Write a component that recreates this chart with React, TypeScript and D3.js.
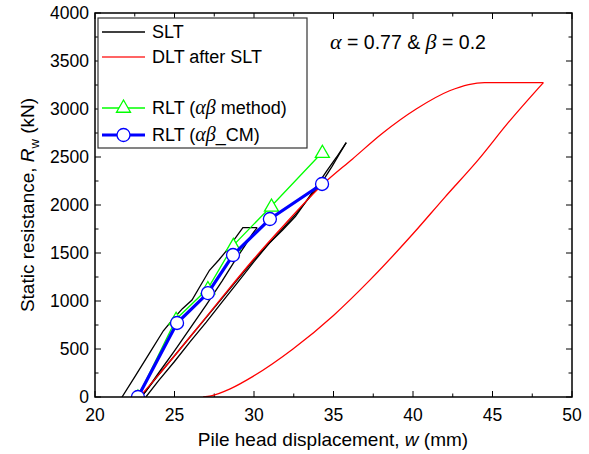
import React from 'react'
import * as d3 from 'd3'

// SLT - static load test, cycle 1 loading + hold, unloading, cycle 2 reload, unloading
const sltCycle1Load: [number, number][] = [
  [21.7, 0], [22.5, 210], [23.4, 450], [24.3, 690], [24.9, 810], [25.5, 920],
  [26.1, 1010], [26.7, 1180], [27.2, 1320], [27.8, 1430], [28.3, 1530],
  [28.8, 1650], [29.3, 1765], [30.2, 1765],
]
const sltCycle1Unload: [number, number][] = [
  [30.2, 1765], [29.9, 1700], [29.4, 1570], [28.8, 1420], [28.0, 1210],
  [27.0, 960], [26.0, 720], [25.0, 480], [24.0, 250], [23.2, 60], [22.9, 0],
]
const sltCycle2Load: [number, number][] = [
  [22.9, 0], [24.0, 230], [25.0, 430], [26.0, 630], [27.0, 830], [28.0, 1030],
  [29.0, 1230], [30.0, 1430], [31.0, 1610], [31.8, 1740], [32.6, 1880],
  [33.2, 2020], [33.9, 2190], [34.6, 2360], [35.2, 2500], [35.8, 2650],
]
const sltCycle2Unload: [number, number][] = [
  [35.8, 2650], [35.4, 2540], [34.9, 2400], [34.4, 2270], [33.6, 2100],
  [32.6, 1900], [32.0, 1790], [31.0, 1610], [30.0, 1410], [29.0, 1200],
  [28.0, 990], [27.0, 780], [26.0, 580], [25.0, 370], [24.0, 170], [23.2, 0],
]

// DLT after SLT (red), loading then unloading
const dltLoad: [number, number][] = [
  [22.8, 0], [24.0, 230], [26.0, 630], [28.0, 1040], [30.0, 1440], [32.0, 1810],
  [34.3, 2210], [36.2, 2480], [38.1, 2750], [40.2, 3000], [42.3, 3190],
  [43.5, 3255], [44.5, 3275], [48.2, 3275],
]
const dltUnload: [number, number][] = [
  [48.2, 3275], [46.0, 2860], [44.1, 2470], [42.0, 2080], [40.0, 1700],
  [37.3, 1220], [35.0, 850], [32.45, 500], [29.94, 215], [28.5, 85],
  [27.3, 12], [26.8, 0],
]

// RLT points
const rltAbMethod: [number, number][] = [
  [22.7, 0], [25.1, 810], [27.1, 1130], [28.7, 1580], [31.1, 1990], [34.3, 2550],
]
const rltAbCM: [number, number][] = [
  [22.7, 0], [25.16, 771], [27.1, 1083], [28.68, 1479], [31.0, 1854], [34.28, 2219],
]

const xTicks = [20, 25, 30, 35, 40, 45, 50]
const yTicks = [0, 500, 1000, 1500, 2000, 2500, 3000, 3500, 4000]

const W = 589
const H = 454
const m = { left: 95, right: 572, top: 13, bottom: 397 }
const font = 'Liberation Sans, Arial, sans-serif'
const mathFont = 'Liberation Serif, Times New Roman, serif'

const App = () => {
  const x = d3.scaleLinear().domain([20, 50]).range([m.left, m.right])
  const y = d3.scaleLinear().domain([0, 4000]).range([m.bottom, m.top])
  const line = d3
    .line<[number, number]>()
    .x((d) => x(d[0]))
    .y((d) => y(d[1]))
  // the DLT curves are smooth, so run a spline through the read points
  const smooth = d3
    .line<[number, number]>()
    .x((d) => x(d[0]))
    .y((d) => y(d[1]))
    .curve(d3.curveMonotoneX)

  const xMinor = d3.range(20, 50.01, 2.5)
  const yMinor = d3.range(0, 4000.01, 250)

  const tri = (cx: number, cy: number, s = 7) =>
    `M${cx},${cy - s}L${cx + s},${cy + s * 0.75}L${cx - s},${cy + s * 0.75}Z`

  const slt = [sltCycle1Load, sltCycle1Unload, sltCycle2Load, sltCycle2Unload]

  return (
    <svg
      width={W}
      height={H}
      style={{ position: 'absolute', left: 0, top: 0, background: '#fff' }}
      fontFamily={font}
    >
      <defs>
        <clipPath id="plot">
          <rect x={m.left} y={m.top} width={m.right - m.left} height={m.bottom - m.top} />
        </clipPath>
      </defs>

      {/* ticks, inside on all four sides */}
      {xMinor.map((v) => {
        const major = v % 5 === 0
        const len = major ? 6 : 3.5
        return (
          <g key={`xt${v}`} stroke="#000" strokeWidth={1}>
            <line x1={x(v)} x2={x(v)} y1={m.bottom} y2={m.bottom - len} />
            <line x1={x(v)} x2={x(v)} y1={m.top} y2={m.top + len} />
          </g>
        )
      })}
      {yMinor.map((v) => {
        const major = v % 500 === 0
        const len = major ? 6 : 3.5
        return (
          <g key={`yt${v}`} stroke="#000" strokeWidth={1}>
            <line x1={m.left} x2={m.left + len} y1={y(v)} y2={y(v)} />
            <line x1={m.right} x2={m.right - len} y1={y(v)} y2={y(v)} />
          </g>
        )
      })}
      {xTicks.map((v) => (
        <text key={`xl${v}`} x={x(v)} y={m.bottom + 24} textAnchor="middle" fontSize={17.5}>
          {v}
        </text>
      ))}
      {yTicks.map((v) => (
        <text key={`yl${v}`} x={m.left - 6} y={y(v) + 6} textAnchor="end" fontSize={17.5}>
          {v}
        </text>
      ))}

      <g clipPath="url(#plot)" fill="none">
        {slt.map((d, i) => (
          <path key={`slt${i}`} d={line(d) ?? ''} stroke="#000" strokeWidth={1.3} />
        ))}
        <path d={smooth(dltLoad) ?? ''} stroke="#ff0000" strokeWidth={1.3} />
        <path d={smooth(dltUnload) ?? ''} stroke="#ff0000" strokeWidth={1.3} />
        <path d={line(rltAbMethod) ?? ''} stroke="#00ff00" strokeWidth={1.3} />
        {rltAbMethod.map((d, i) => (
          <path key={`tr${i}`} d={tri(x(d[0]), y(d[1]))} fill="#fff" stroke="#00ff00" strokeWidth={1.3} />
        ))}
        <path d={line(rltAbCM) ?? ''} stroke="#0000ff" strokeWidth={3.2} />
        {rltAbCM.map((d, i) => (
          <circle key={`ci${i}`} cx={x(d[0])} cy={y(d[1])} r={6.5} fill="#fff" stroke="#0000ff" strokeWidth={1.3} />
        ))}
      </g>

      <rect
        x={m.left}
        y={m.top}
        width={m.right - m.left}
        height={m.bottom - m.top}
        fill="none"
        stroke="#000"
        strokeWidth={1.5}
      />

      {/* legend */}
      <g>
        <rect x={98} y={18} width={209} height={130} fill="#fff" stroke="#333" strokeWidth={1.2} />
        <line x1={102} x2={145} y1={32} y2={32} stroke="#000" strokeWidth={1.3} />
        <text x={152} y={38} fontSize={18}>SLT</text>
        <line x1={102} x2={145} y1={57} y2={57} stroke="#ff3030" strokeWidth={1.3} />
        <text x={152} y={63} fontSize={18}>DLT after SLT</text>
        <line x1={102} x2={145} y1={108} y2={108} stroke="#00ff00" strokeWidth={1.3} />
        <path d={tri(123.5, 107)} fill="#fff" stroke="#00ff00" strokeWidth={1.3} />
        <text x={152} y={114} fontSize={18}>
          RLT (<tspan fontFamily={mathFont} fontStyle="italic" fontSize={20}>αβ</tspan> method)
        </text>
        <line x1={102} x2={145} y1={135} y2={135} stroke="#0000ff" strokeWidth={3.2} />
        <circle cx={123.5} cy={135} r={6.5} fill="#fff" stroke="#0000ff" strokeWidth={1.3} />
        <text x={152} y={141} fontSize={18}>
          RLT (<tspan fontFamily={mathFont} fontStyle="italic" fontSize={20}>αβ</tspan>_CM)
        </text>
      </g>

      <text x={330} y={49} fontSize={19.5}>
        <tspan fontFamily={mathFont} fontStyle="italic" fontSize={22}>α</tspan> = 0.77 &amp;{' '}
        <tspan fontFamily={mathFont} fontStyle="italic" fontSize={22}>β</tspan> = 0.2
      </text>

      {/* axis titles */}
      <text x={333} y={446} textAnchor="middle" fontSize={19}>
        Pile head displacement, <tspan fontStyle="italic">w</tspan> (mm)
      </text>
      <text
        transform={`translate(34 ${(m.top + m.bottom) / 2}) rotate(-90)`}
        textAnchor="middle"
        fontSize={19}
      >
        Static resistance, <tspan fontStyle="italic">R</tspan>
        <tspan fontSize={13} dy={5}>w</tspan>
        <tspan dy={-5}> (kN)</tspan>
      </text>
    </svg>
  )
}

export default App
